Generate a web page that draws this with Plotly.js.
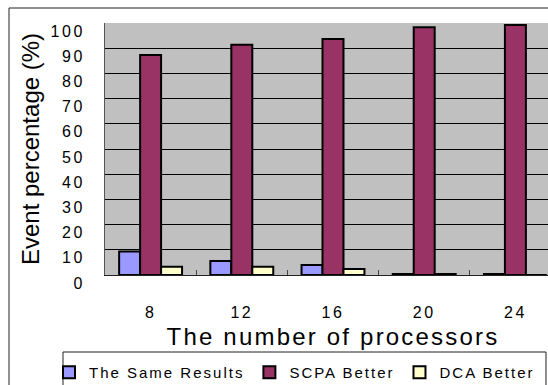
<!DOCTYPE html>
<html>
<head>
<meta charset="utf-8">
<script src="https://cdn.plot.ly/plotly-3.0.1.min.js"></script>
<style>
  html, body { margin: 0; padding: 0; overflow: hidden; background: #fff; }
  #chart { width: 565px; height: 385px; }
  .xtitle { letter-spacing: 2.2px; }
  .legendtext { letter-spacing: 2px; }
  .xtick text { letter-spacing: 2.5px; }
  .ytick text { letter-spacing: 2.5px; }
</style>
</head>
<body>
<div id="chart"></div>
<script>
const processors = ['8', '12', '16', '20', '24'];
const sameResults = [9.3, 5.6, 4.0, 0.4, 0.4];
const scpaBetter = [87.3, 91.4, 93.7, 98.3, 99.2];
const dcaBetter = [3.3, 3.3, 2.4, 0.4, 0];
const yTicks = [0, 10, 20, 30, 40, 50, 60, 70, 80, 90, 100];

const font = 'Liberation Sans, Arial, sans-serif';
const outline = { color: '#000', width: 2 };

const traces = [
  { type: 'bar', name: 'The Same Results', x: processors, y: sameResults,
    marker: { color: '#9999FF', line: outline } },
  { type: 'bar', name: 'SCPA Better', x: processors, y: scpaBetter,
    marker: { color: '#993366', line: outline } },
  { type: 'bar', name: 'DCA Better', x: processors, y: dcaBetter,
    marker: { color: '#FFFFCC', line: outline } }
];

const layout = {
  width: 565, height: 385,
  margin: { l: 105, r: 4, t: 23, b: 110, autoexpand: false },
  paper_bgcolor: '#fff',
  plot_bgcolor: '#C0C0C0',
  barmode: 'group',
  bargap: 0.31,
  bargroupgap: 0,
  showlegend: true,
  font: { family: font, color: '#000' },
  xaxis: {
    type: 'category',
    ticks: 'inside', tickson: 'boundaries', ticklen: 5, tickcolor: '#444', tickwidth: 1,
    showline: true, linecolor: '#222', linewidth: 1,
    showgrid: false,
    tickfont: { size: 16, family: font, color: '#000' },
    ticklabelstandoff: 23,
    title: { text: 'The number of processors', font: { size: 24, family: font, color: '#000' }, standoff: 7 }
  },
  yaxis: {
    range: [0, 100],
    tickvals: yTicks,
    ticktext: yTicks.map(String),
    ticks: '',
    showline: true, linecolor: '#555', linewidth: 1,
    showgrid: true, gridcolor: '#000', gridwidth: 1,
    zeroline: false,
    tickfont: { size: 16, family: font, color: '#000' },
    ticklabelshift: 8,
    ticklabelstandoff: 16,
    title: { text: 'Event percentage (%)', font: { size: 24, family: font, color: '#000' }, standoff: 4 }
  },
  legend: {
    orientation: 'h',
    x: -0.1228, xanchor: 'left',
    y: -0.321, yanchor: 'top',
    bgcolor: 'rgba(0,0,0,0)',
    borderwidth: 0,
    font: { size: 15, family: font, color: '#000' },
    traceorder: 'normal'
  },
  shapes: [
    { type: 'rect', xref: 'paper', yref: 'paper', x0: -0.2105, x1: 1.1, y0: -0.6, y1: 1.0595,
      line: { color: '#222', width: 1 }, fillcolor: 'rgba(0,0,0,0)', layer: 'below' },
    { type: 'rect', xref: 'paper', yref: 'paper', x0: -0.0921, x1: 0.9671, y0: -0.6, y1: -0.3056,
      line: { color: '#222', width: 1 }, fillcolor: 'rgba(0,0,0,0)', layer: 'above' }
  ]
};

Plotly.newPlot('chart', traces, layout, { displayModeBar: false, staticPlot: true });
</script>
</body>
</html>
